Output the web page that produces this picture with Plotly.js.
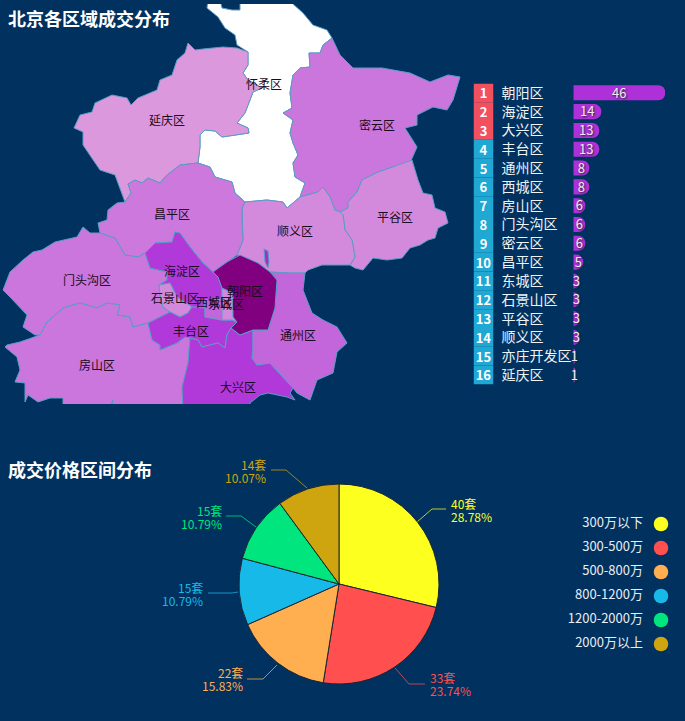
<!DOCTYPE html>
<html>
<head>
<meta charset="utf-8">
<script src="https://cdn.plot.ly/plotly-3.0.1.min.js"></script>
<style>html,body{margin:0;padding:0;background:#00315f;overflow:hidden}</style>
</head>
<body>
<div id="chart" style="width:685px;height:721px"></div>
<script>
// ---------- data ----------
const rankedDistricts = ['朝阳区','海淀区','大兴区','丰台区','通州区','西城区','房山区','门头沟区','密云区','昌平区','东城区','石景山区','平谷区','顺义区','亦庄开发区','延庆区'];
const dealCounts = [46,14,13,13,8,8,6,6,6,5,3,3,3,3,1,1];
const rankNumbers = ['1','2','3','4','5','6','7','8','9','10','11','12','13','14','15','16'];
const rankColors = ['#f2505f','#f2505f','#f2505f','#1fa8d4','#1fa8d4','#1fa8d4','#1fa8d4','#1fa8d4','#1fa8d4','#1fa8d4','#1fa8d4','#1fa8d4','#1fa8d4','#1fa8d4','#1fa8d4','#1fa8d4'];

const priceBands = ['300万以下','300-500万','500-800万','800-1200万','1200-2000万','2000万以上'];
const priceCounts = [40,33,22,15,15,14];
const priceColors = ['#fdff1f','#ff4f4f','#ffaf4f','#17b9e8','#00e57d','#cea50f'];

// district outlines, in map units
const huairou = [[208,0],[207,8],[218,17],[225,28],[235,35],[237,45],[248,52],[248,65],[243,73],[248,80],[262,88],[253,92],[250,100],[245,113],[237,123],[248,128],[249,133],[233,135],[222,137],[215,131],[205,130],[200,135],[200,147],[198,163],[210,167],[215,177],[232,182],[235,193],[245,202],[267,200],[283,202],[287,208],[300,197],[305,183],[295,177],[293,163],[298,155],[293,143],[290,133],[293,120],[283,113],[292,108],[290,93],[293,75],[300,68],[310,67],[309,53],[320,53],[323,45],[332,38],[327,30],[313,25],[303,13],[293,4],[293,0],[240,0],[240,10],[232,10],[222,8],[220,0]];
const yanqing = [[125,202],[115,175],[100,170],[83,145],[83,132],[74,128],[80,115],[92,112],[95,103],[112,95],[127,98],[131,105],[138,98],[157,90],[160,80],[172,75],[177,60],[185,53],[188,43],[195,50],[203,49],[223,47],[237,48],[248,52],[248,65],[243,73],[248,80],[262,88],[253,92],[250,100],[245,113],[237,123],[248,128],[249,133],[233,135],[222,137],[215,131],[205,130],[200,135],[200,147],[198,163],[180,165],[167,175],[160,183],[148,178],[142,183],[135,180],[128,184],[131,193]];
const miyun = [[332,38],[340,55],[353,68],[382,68],[410,73],[430,82],[448,75],[460,77],[453,100],[447,110],[433,107],[417,115],[417,125],[405,128],[417,147],[410,163],[390,168],[378,172],[362,180],[357,192],[348,202],[348,208],[340,212],[335,210],[330,197],[323,187],[318,192],[300,197],[305,183],[295,177],[293,163],[298,155],[293,143],[290,133],[293,120],[283,113],[292,108],[290,93],[293,75],[300,68],[310,67],[309,53],[320,53],[323,45]];
const pinggu = [[412,160],[418,180],[423,193],[432,195],[435,208],[445,212],[448,223],[438,228],[435,238],[428,240],[420,245],[410,248],[402,258],[387,260],[373,258],[363,270],[355,268],[350,265],[355,257],[352,240],[345,230],[343,215],[340,212],[348,208],[348,202],[357,192],[362,180],[378,172],[390,168]];
const shunyi = [[242,208],[245,202],[267,200],[283,202],[287,208],[300,197],[318,192],[323,187],[330,197],[335,210],[340,212],[343,215],[345,230],[352,240],[355,257],[350,265],[340,265],[322,265],[308,270],[305,273],[288,273],[270,272],[258,263],[245,258],[237,255],[243,240],[242,220]];
const changping = [[125,202],[131,193],[128,184],[135,180],[142,183],[148,178],[160,183],[167,175],[180,165],[198,163],[210,167],[215,177],[232,182],[235,193],[245,202],[242,208],[242,220],[243,240],[237,255],[227,262],[213,272],[202,262],[190,247],[180,233],[175,232],[172,242],[155,243],[145,253],[138,257],[125,255],[115,238],[100,233],[98,223],[107,220],[108,210],[117,203]];
const mentougou = [[83,227],[90,233],[100,233],[115,238],[125,255],[138,257],[145,253],[150,268],[167,272],[167,280],[159,285],[160,295],[163,307],[170,312],[148,323],[133,327],[130,317],[117,315],[120,305],[107,303],[97,308],[80,303],[63,308],[47,322],[40,335],[35,335],[23,327],[27,315],[10,297],[3,290],[10,272],[23,260],[33,252],[42,250],[55,242],[77,237]];
const fangshan = [[40,335],[47,322],[63,308],[80,303],[97,308],[107,303],[120,305],[117,315],[130,317],[133,327],[148,323],[152,340],[160,345],[160,350],[177,343],[185,337],[190,338],[188,363],[182,387],[183,412],[110,412],[113,400],[108,412],[63,412],[63,398],[50,398],[38,402],[28,395],[25,402],[25,383],[15,382],[20,370],[17,357],[5,347],[7,345],[20,342]];
const haidian = [[145,253],[155,243],[172,242],[175,232],[180,233],[190,247],[202,262],[213,272],[218,277],[222,288],[222,298],[205,300],[205,308],[192,307],[177,297],[170,283],[159,285],[167,280],[167,272],[150,268]];
const shijingshan = [[159,285],[170,283],[177,297],[192,307],[188,313],[180,317],[170,312],[163,307],[160,295]];
const fengtai = [[148,323],[170,312],[180,317],[188,313],[192,307],[205,308],[205,317],[222,320],[232,320],[237,322],[231,328],[227,335],[225,348],[218,343],[202,347],[198,340],[190,338],[185,337],[177,343],[160,350],[160,345],[152,340]];
const daxing = [[190,338],[198,340],[202,347],[218,343],[225,348],[227,335],[231,328],[240,335],[253,330],[253,350],[252,358],[257,365],[270,363],[278,372],[293,388],[290,393],[295,400],[287,397],[277,395],[268,393],[260,395],[250,403],[250,412],[183,412],[182,387],[188,363]];
const tongzhou = [[253,330],[268,330],[275,308],[277,280],[270,272],[288,273],[305,273],[303,290],[312,313],[323,320],[337,327],[347,343],[337,352],[333,373],[317,380],[310,400],[297,393],[293,388],[278,372],[270,363],[257,365],[252,358],[253,350]];
const chaoyang = [[240,255],[258,263],[270,272],[277,280],[275,308],[268,330],[253,330],[240,335],[231,328],[237,322],[233,317],[233,293],[222,288],[218,277],[213,272],[227,262]];
const xicheng = [[205,300],[222,298],[222,320],[205,317]];
const dongcheng = [[222,288],[233,293],[233,317],[237,322],[232,320],[222,320]];
const yizhuang = [[264,249],[268,251],[269,262],[268,268],[265,262]];

const mapDistricts = [
  {name:'怀柔区', outline:huairou, color:'#ffffff'},
  {name:'延庆区', outline:yanqing, color:'#dc98dc'},
  {name:'密云区', outline:miyun, color:'#cb76dc'},
  {name:'平谷区', outline:pinggu, color:'#d48adc'},
  {name:'顺义区', outline:shunyi, color:'#d48adc'},
  {name:'亦庄开发区', outline:yizhuang, color:'#a52fc4'},
  {name:'昌平区', outline:changping, color:'#cc78dc'},
  {name:'门头沟区', outline:mentougou, color:'#cb76dc'},
  {name:'房山区', outline:fangshan, color:'#cb76dc'},
  {name:'海淀区', outline:haidian, color:'#b139d9'},
  {name:'石景山区', outline:shijingshan, color:'#d48adc'},
  {name:'丰台区', outline:fengtai, color:'#b139d9'},
  {name:'大兴区', outline:daxing, color:'#b139d9'},
  {name:'通州区', outline:tongzhou, color:'#c366dc'},
  {name:'西城区', outline:xicheng, color:'#c366dc'},
  {name:'东城区', outline:dongcheng, color:'#d48adc'},
  {name:'朝阳区', outline:chaoyang, color:'#800080'}
];
const mapLabels = ['怀柔区','延庆区','密云区','昌平区','顺义区','平谷区','门头沟区','海淀区','石景山区','西城区','朝阳区','东城区','丰台区','通州区','房山区','大兴区'];
const mapLabelX = [264,167,377,172,295,395,87,182,175,214,245,226,191,298,97,238];
const mapLabelY = [86,122,127,216,233,219,282,273,300,304,293,306,333,337,367,389];

// pie call-outs: leader path, text anchor
const calloutX = [[417,432,446],[395,409,425],[277,263,247],[238,232,208],[256,241,226],[307,286,271]];
const calloutY = [[522,509,509],[668,684,684],[665,679,679],[592,593,593],[527,516,516],[488,470,470]];
const calloutTextX = [451,429.5,243,203,222,266];
const calloutTextY = [504,678,673,588,511,465];

const legendRowY = [524,548,572,596,620,644];

// ---------- chart ----------
const W = 685, H = 721;
const cjk = '"Noto Sans CJK SC","Noto Sans",sans-serif';
const traces = [];

mapDistricts.forEach(d => {
  const pts = d.outline.concat([d.outline[0]]);
  traces.push({type:'scatter', mode:'lines', x:pts.map(p=>p[0]), y:pts.map(p=>p[1]), fill:'toself',
    fillcolor:d.color, line:{color:'#5b9dc6', width:1}, name:d.name, hoverinfo:'name', xaxis:'x', yaxis:'y', showlegend:false});
});
traces.push({type:'scatter', mode:'text', x:mapLabelX, y:mapLabelY, text:mapLabels, textposition:'middle center',
  textfont:{family:cjk, size:12, color:'#1a0a24'}, hoverinfo:'skip', xaxis:'x', yaxis:'y', showlegend:false, cliponaxis:false});

// ranking
traces.push({type:'bar', orientation:'h', y:rankedDistricts, x:rankNumbers.map(()=>1), width:1, text:rankNumbers,
  textposition:'inside', insidetextanchor:'middle', constraintext:'none', textangle:0,
  textfont:{family:cjk, size:13, color:'#ffffff', weight:600}, marker:{color:rankColors, cornerradius:0, line:{width:0}},
  xaxis:'x3', yaxis:'y2', hoverinfo:'skip', showlegend:false});
traces.push({type:'bar', orientation:'h', y:rankedDistricts, x:dealCounts, width:0.8, textposition:'none',
  marker:{color:'#ae30d9', cornerradius:7, line:{width:0}}, xaxis:'x2', yaxis:'y2', hoverinfo:'x+y', showlegend:false});
traces.push({type:'scatter', mode:'text', y:rankedDistricts, x:dealCounts.map(v=>v/2), text:dealCounts.map(String),
  textposition:'middle center', cliponaxis:false,
  textfont:{family:cjk, size:13, color:'#eeeeee', shadow:'1px 1px 2px #222222'},
  xaxis:'x6', yaxis:'y3', hoverinfo:'skip', showlegend:false});
traces.push({type:'scatter', mode:'text', y:rankedDistricts, x:rankedDistricts.map(()=>0), text:rankedDistricts,
  textposition:'middle right', cliponaxis:false, textfont:{family:cjk, size:14, color:'#eef3f7'},
  xaxis:'x4', yaxis:'y3', hoverinfo:'skip', showlegend:false});

// pie
traces.push({type:'pie', labels:priceBands, values:priceCounts, sort:false, direction:'clockwise', rotation:0,
  textinfo:'none', marker:{colors:priceColors, line:{color:'#1a2530', width:1}},
  domain:{x:[239/W,439/W], y:[1-684/H,1-484/H]}, showlegend:false, automargin:false});

// leader lines
calloutX.forEach((xs,i) => traces.push({type:'scatter', mode:'lines', x:xs, y:calloutY[i],
  line:{color:priceColors[i], width:1}, opacity:0.75, xaxis:'x5', yaxis:'y5', hoverinfo:'skip', showlegend:false}));

// price legend
traces.push({type:'scatter', mode:'markers', x:legendRowY.map(()=>661), y:legendRowY,
  marker:{size:14.5, color:priceColors, line:{width:0}}, xaxis:'x5', yaxis:'y5', hoverinfo:'skip', showlegend:false, cliponaxis:false});
traces.push({type:'scatter', mode:'text', x:legendRowY.map(()=>643), y:legendRowY, text:priceBands,
  textposition:'middle left', textfont:{family:cjk, size:13, color:'#e8eef4'}, xaxis:'x5', yaxis:'y5', hoverinfo:'skip', showlegend:false, cliponaxis:false});

// pie call-out text
const annotations = [{text:'成交价格区间分布', xref:'x5', yref:'y5', x:6, y:469, xanchor:'left', yanchor:'middle', showarrow:false,
  font:{family:cjk, size:18, color:'#ffffff', weight:700}}];
priceCounts.forEach((c,i) => {
  const left = calloutTextX[i] > 339;
  const pct = (c/priceCounts.reduce((a,b)=>a+b,0)*100).toFixed(2)+'%';
  [c+'套', pct].forEach((t,k) => annotations.push({text:t, xref:'x5', yref:'y5', x:calloutTextX[i]+(left?-2:2), y:calloutTextY[i]-0.5+k*12.5,
    xanchor:left?'left':'right', yanchor:'middle', showarrow:false, font:{family:cjk, size:12, color:priceColors[i]}}));
});

const hidden = {visible:false, fixedrange:true};
const rowAxis = {...hidden, type:'category', categoryorder:'array', categoryarray:rankedDistricts, range:[15.5,-0.5]};
const layout = {
  width:W, height:H, margin:{l:0,r:0,t:0,b:0}, paper_bgcolor:'#00315f', plot_bgcolor:'rgba(0,0,0,0)', showlegend:false,
  barcornerradius:7, hovermode:'closest',
  title:{text:'北京各区域成交分布', x:8/W, xanchor:'left', y:1-20/H, yanchor:'middle', font:{family:cjk, size:18, color:'#ffffff', weight:700}},
  xaxis:{...hidden, domain:[0,1], range:[0,W], anchor:'y'},
  yaxis:{...hidden, domain:[1-404/H,1-4/H], range:[404,4], anchor:'x'},
  xaxis2:{...hidden, domain:[573.3/W,665.3/W], range:[0,46], anchor:'y2'},
  yaxis2:{...rowAxis, domain:[1-384.4/H,1-83.4/H], anchor:'x2'},
  yaxis3:{...rowAxis, domain:[1-385.9/H,1-84.9/H], anchor:'x4'},
  xaxis3:{...hidden, domain:[473.5/W,493.5/W], range:[0,1], anchor:'y2'},
  xaxis4:{...hidden, domain:[501.5/W,571/W], range:[0,1], anchor:'y3'},
  xaxis6:{...hidden, domain:[573.3/W,665.3/W], range:[0,46], anchor:'y3'},
  xaxis5:{...hidden, domain:[0,1], range:[0,W], anchor:'y5'},
  yaxis5:{...hidden, domain:[0,1], range:[H,0], anchor:'x5'},
  annotations
};
Plotly.newPlot('chart', traces, layout, {displayModeBar:false, responsive:false});
</script>
</body>
</html>
